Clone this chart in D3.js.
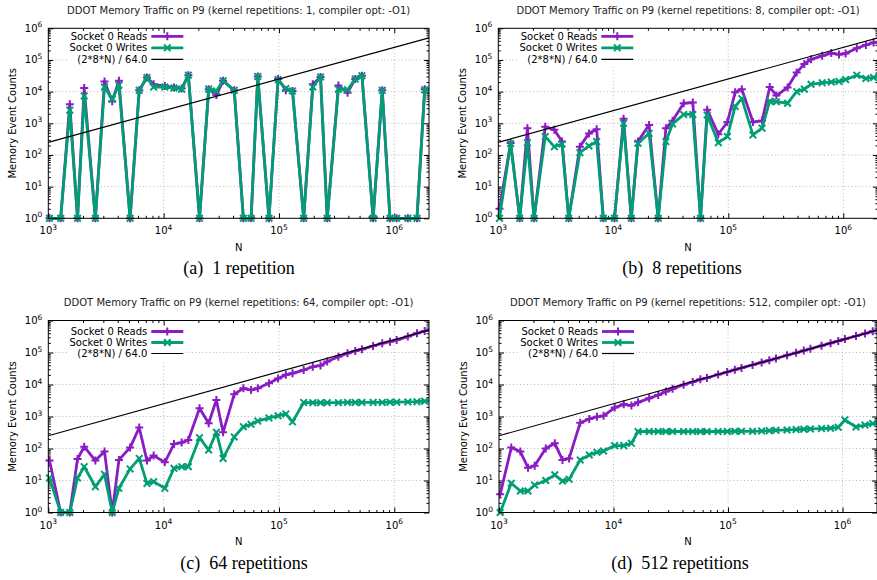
<!DOCTYPE html>
<html>
<head>
<meta charset="utf-8">
<script src="https://cdn.jsdelivr.net/npm/d3@7"></script>
<style>
body { margin: 0; background: #fff; }
svg { display: block; font-family: "DejaVu Sans", sans-serif; }
</style>
</head>
<body>
<script>
// vector sizes N (x values shared by every panel)
const sizes = [
  1024, 1280, 1536, 1792, 2048, 2560, 3072, 3584, 4096, 5120, 6144, 7168,
  8192, 10240, 12288, 14336, 16384, 20480, 24576, 28672, 32768, 40960, 49152, 57344,
  65536, 81920, 98304, 114688, 131072, 163840, 196608, 229376, 262144, 327680, 393216, 458752,
  524288, 655360, 786432, 917504, 1048576, 1310720, 1572864, 1835008, 2097152
]

const readsRep1 = [1, 1, 4000, 1, 13000, 1, 21000, 5000, 22000, 1, 11000, 28000, 17000, 15000, 13500, 12500,
  33000, 1, 12000, 7800, 22000, 11000, 1, 1, 30000, 1, 25000, 11000, 10500, 1, 17000, 29000, 1, 15500, 9300,
  25000, 32000, 1, 11000, 1, 1, 1, 1, 12000, 12000]
const writesRep1 = [1, 1, 2600, 1, 7300, 1, 14000, 5800, 16000, 1, 11000, 28000, 14000, 14000, 13000, 12000,
  33000, 1, 12000, 10500, 22000, 11000, 1, 1, 30000, 1, 24000, 12500, 10500, 1, 14000, 29000, 1, 12000, 11500,
  25000, 32000, 1, 11000, 1, 1, 1, 1, 11500, 11500]

const readsRep8 = [2, 240, 1, 700, 1, 780, 620, 265, 1, 183, 480, 650, 1, 1, 1400, 1, 265, 890, 1, 700, 1200,
  4300, 4500, 1, 2700, 450, 1100, 9500, 12000, 1100, 1200, 14000, 7500, 13500, 40000, 75000, 105000,
  135000, 165000, 150000, 160000, 234000, 296000, 355000, 360000]
const writesRep8 = [1, 230, 1, 245, 1, 380, 183, 222, 1, 118, 192, 265, 1, 1, 1000, 1, 234, 480, 1, 265, 955,
  1900, 1900, 1, 1830, 245, 380, 3400, 6000, 430, 700, 5000, 4800, 4300, 10000, 12000, 17000,
  19000, 20000, 21000, 24000, 33000, 26000, 28000, 28000]

const readsRep64 = [42, 1, 1, 47, 114, 42, 80, 1, 44, 107, 450, 42, 60, 37, 138, 153, 185, 1800, 615, 3300, 320,
  5000, 7600, 6700, 7600, 11000, 15500, 20000, 22400, 28300, 36000, 39000, 52000, 74000, 94000, 112000,
  126000, 160000, 194000, 218000, 245000, 314000, 400000, 470000, 520000]
const writesRep64 = [12, 1, 1, 12, 27, 6.4, 15.6, 1, 5.7, 23, 49, 8.1, 9.2, 5.7, 24, 27, 27, 218, 90, 320, 49,
  230, 480, 570, 720, 900, 1050, 1200, 680, 2750, 2700, 2700, 2700, 2700, 2750, 2750,
  2750, 2750, 2750, 2800, 2800, 2850, 2900, 3000, 3100]

const readsRep512 = [3.7, 107, 80, 25, 29, 100, 145, 44, 49, 640, 840, 980, 1050, 1900, 2400, 2200, 2770, 3700,
  4700, 6000, 7300, 9800, 12000, 14500, 16000, 20500, 24500, 29000, 33000, 41000, 49000, 57000, 65000,
  82000, 98000, 115000, 131000, 164000, 196000, 230000, 262000, 328000, 393000, 459000, 524000]
const writesRep512 = [1, 8.2, 4.7, 4.7, 7.2, 10, 15, 9.6, 10.9, 44, 63, 76, 83, 123, 123, 145, 340, 340, 340, 340,
  340, 340, 340, 340, 340, 340, 340, 345, 345, 345, 350, 360, 370, 380, 390, 400, 410, 420, 430, 460,
  780, 470, 540, 600, 650]

// (2*8*N) / 64.0 reference line, end points
const refLine = [[1000, 250], [2000000, 500000]]

const xDomain = [1000, 2000000]
const yDomain = [1, 1000000]
const xDecades = [1e3, 1e4, 1e5, 1e6]
const yDecades = [1e0, 1e1, 1e2, 1e3, 1e4, 1e5, 1e6]
const legendLabels = ["Socket 0 Reads", "Socket 0 Writes", "(2*8*N) / 64.0"]

const panels = [
  {tag: "a", reps: 1, caption: "1 repetition", reads: readsRep1, writes: writesRep1},
  {tag: "b", reps: 8, caption: "8 repetitions", reads: readsRep8, writes: writesRep8},
  {tag: "c", reps: 64, caption: "64 repetitions", reads: readsRep64, writes: writesRep64},
  {tag: "d", reps: 512, caption: "512 repetitions", reads: readsRep512, writes: writesRep512}
]

const boxes = [
  {left: 48.3, right: 429, top: 28.3, bottom: 218.3, legendDy: [8, 19.5, 31], capX: 239},
  {left: 498.3, right: 877.9, top: 28.3, bottom: 218.3, legendDy: [8, 19.5, 31], capX: 682},
  {left: 48.3, right: 429, top: 320.5, bottom: 512.5, legendDy: [11, 22, 33], capX: 244},
  {left: 499, right: 877, top: 320.5, bottom: 512.5, legendDy: [11, 22, 33], capX: 680}
]

const purple = "#8a1cc4"
const green = "#009e73"

const svg = d3.select("body").append("svg")
  .attr("width", 877)
  .attr("height", 580)

// minor tick positions 2..9 of each decade
function minorTicks(domain) {
  const out = []
  for (let p = Math.floor(Math.log10(domain[0])); p < Math.ceil(Math.log10(domain[1])); p++) {
    for (let m = 2; m < 10; m++) {
      const v = m * Math.pow(10, p)
      if (v > domain[0] && v < domain[1]) out.push(v)
    }
  }
  return out
}

function powLabel(sel, exp) {
  sel.append("tspan").text("10")
  sel.append("tspan").attr("font-size", 7.5).attr("dy", -4.5).text(exp)
}

function marker(shape) {
  if (shape === "plus") return "M-4,0H4M0,-4V4"
  return "M-3.3,-3.3L3.3,3.3M-3.3,3.3L3.3,-3.3"
}

function drawPanel(p, box, idx) {
  const x = d3.scaleLog().domain(xDomain).range([box.left, box.right])
  const y = d3.scaleLog().domain(yDomain).range([box.bottom, box.top])
  const g = svg.append("g")
  const midX = (box.left + box.right) / 2

  // grid
  const grid = g.append("g")
    .attr("stroke", "#b8b8b8")
    .attr("stroke-width", 1)
    .attr("stroke-dasharray", "1,2.5")
  grid.selectAll(".gx").data(xDecades.filter(d => d > xDomain[0])).join("line")
    .attr("x1", d => x(d)).attr("x2", d => x(d))
    .attr("y1", box.top).attr("y2", box.bottom)
  grid.selectAll(".gy").data(yDecades.filter(d => d > yDomain[0] && d < yDomain[1])).join("line")
    .attr("y1", d => y(d)).attr("y2", d => y(d))
    .attr("x1", box.left).attr("x2", box.right)

  // legend background hides grid
  g.append("rect")
    .attr("x", box.left + 20).attr("y", box.top + 1)
    .attr("width", 117).attr("height", box.legendDy[2] + 6)
    .attr("fill", "#fff")

  // ticks on all four sides, pointing inwards
  const xMinor = minorTicks(xDomain)
  const yMinor = minorTicks(yDomain)
  const tickAxis = (axis, scale, majors, minors, tr) => {
    g.append("g").attr("transform", tr)
      .call(axis(scale).tickValues(majors).tickSize(-5).tickFormat(""))
      .call(a => a.select(".domain").remove())
    g.append("g").attr("transform", tr)
      .call(axis(scale).tickValues(minors).tickSize(-2.5).tickFormat(""))
      .call(a => a.select(".domain").remove())
  }
  tickAxis(d3.axisBottom, x, xDecades, xMinor, `translate(0,${box.bottom})`)
  tickAxis(d3.axisTop, x, xDecades, xMinor, `translate(0,${box.top})`)
  tickAxis(d3.axisLeft, y, yDecades, yMinor, `translate(${box.left},0)`)
  tickAxis(d3.axisRight, y, yDecades, yMinor, `translate(${box.right},0)`)

  // tick labels
  g.selectAll(".xl").data(xDecades).join("text")
    .attr("x", d => x(d)).attr("y", box.bottom + 16)
    .attr("text-anchor", "middle").attr("font-size", 10)
    .each(function(d) { powLabel(d3.select(this), Math.round(Math.log10(d))) })
  g.selectAll(".yl").data(yDecades).join("text")
    .attr("x", box.left - 6).attr("y", d => y(d) + 3.5)
    .attr("text-anchor", "end").attr("font-size", 10)
    .each(function(d) { powLabel(d3.select(this), Math.round(Math.log10(d))) })

  // clipped series
  const clipId = "clip" + idx
  g.append("clipPath").attr("id", clipId)
    .append("rect")
    .attr("x", box.left).attr("y", box.top - 6)
    .attr("width", box.right - box.left).attr("height", box.bottom - box.top + 12)

  const line = d3.line().x(d => x(d[0])).y(d => y(d[1]))
  const series = [
    {values: p.reads, color: purple, shape: "plus"},
    {values: p.writes, color: green, shape: "cross"}
  ]
  series.forEach(s => {
    const pts = sizes.map((n, i) => [n, s.values[i]])
    g.append("path")
      .datum(pts)
      .attr("clip-path", `url(#${clipId})`)
      .attr("fill", "none")
      .attr("stroke", s.color)
      .attr("stroke-width", 2.8)
      .attr("stroke-linejoin", "round")
      .attr("d", line)
    g.append("g").selectAll("path")
      .data(pts.filter(d => d[0] <= xDomain[1]))
      .join("path")
      .attr("transform", d => `translate(${x(d[0])},${y(d[1])})`)
      .attr("d", marker(s.shape))
      .attr("stroke", s.color)
      .attr("stroke-width", 2)
      .attr("fill", "none")
  })

  g.append("path")
    .datum(refLine)
    .attr("fill", "none")
    .attr("stroke", "#000")
    .attr("stroke-width", 1.2)
    .attr("d", line)

  // frame
  g.append("rect")
    .attr("x", box.left).attr("y", box.top)
    .attr("width", box.right - box.left).attr("height", box.bottom - box.top)
    .attr("fill", "none").attr("stroke", "#000").attr("stroke-width", 1)

  // legend
  const lx = box.left + 99
  const legendStyles = [
    {color: purple, shape: "plus", width: 2.8},
    {color: green, shape: "cross", width: 2.8},
    {color: "#000", shape: null, width: 1.2}
  ]
  legendLabels.forEach((label, i) => {
    const ly = box.top + box.legendDy[i]
    g.append("text")
      .attr("x", lx).attr("y", ly + 3.5)
      .attr("text-anchor", "end").attr("font-size", 10)
      .text(label)
    g.append("line")
      .attr("x1", lx + 4).attr("x2", lx + 36)
      .attr("y1", ly).attr("y2", ly)
      .attr("stroke", legendStyles[i].color)
      .attr("stroke-width", legendStyles[i].width)
    if (legendStyles[i].shape) {
      g.append("path")
        .attr("transform", `translate(${lx + 20},${ly})`)
        .attr("d", marker(legendStyles[i].shape))
        .attr("stroke", legendStyles[i].color)
        .attr("stroke-width", 2)
    }
  })

  // texts
  g.append("text")
    .attr("x", midX).attr("y", box.top - 14.5)
    .attr("text-anchor", "middle").attr("font-size", 10).attr("fill", "#222")
    .text(`DDOT Memory Traffic on P9 (kernel repetitions: ${p.reps}, compiler opt: -O1)`)
  g.append("text")
    .attr("x", midX).attr("y", box.bottom + 32.5)
    .attr("text-anchor", "middle").attr("font-size", 10)
    .text("N")
  g.append("text")
    .attr("transform", `translate(${box.left - 32.5},${(box.top + box.bottom) / 2}) rotate(-90)`)
    .attr("text-anchor", "middle").attr("font-size", 10)
    .text("Memory Event Counts")
  g.append("text")
    .attr("x", box.capX).attr("y", box.bottom + 56)
    .attr("text-anchor", "middle")
    .attr("font-family", "'Liberation Serif', 'Times New Roman', serif")
    .attr("font-size", 18)
    .text(`(${p.tag})\u2002${p.caption}`)
}

panels.forEach((p, i) => drawPanel(p, boxes[i], i))
</script>
</body>
</html>
